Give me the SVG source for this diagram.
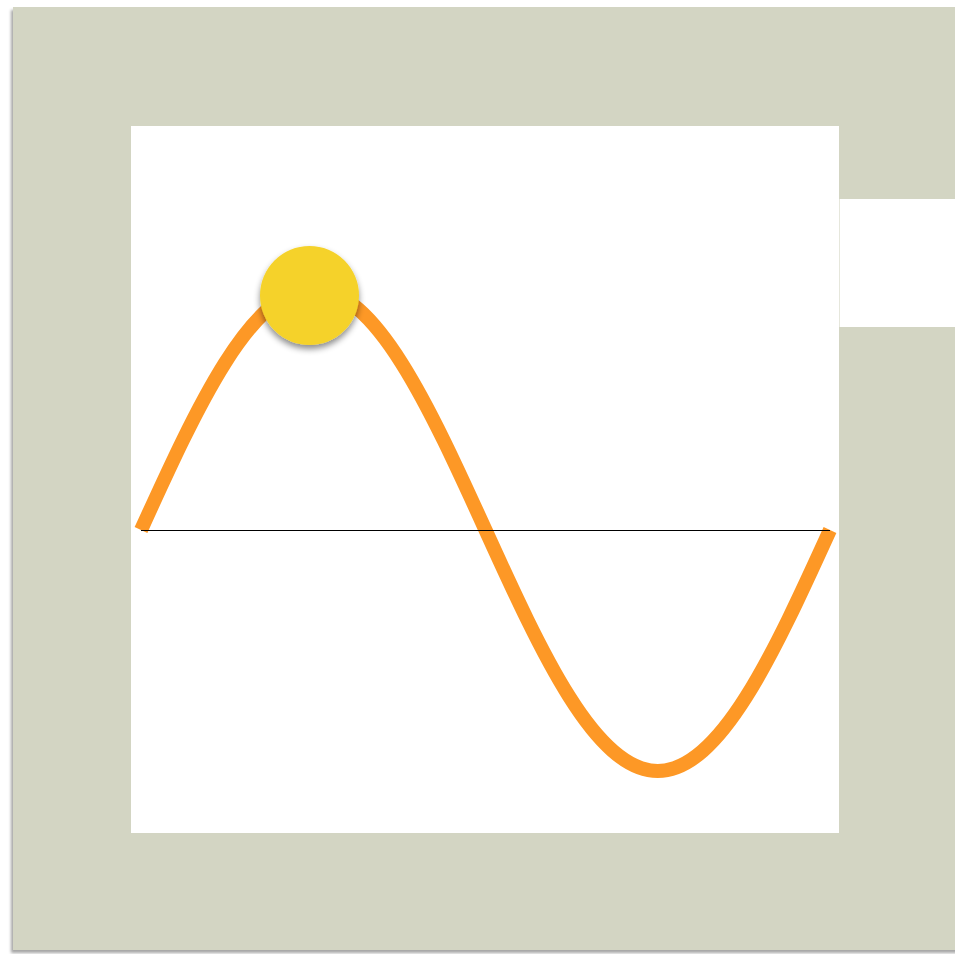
<svg xmlns="http://www.w3.org/2000/svg" width="955" height="954" viewBox="0 0 955 954">
  <defs>
    <filter id="frameShadow" x="-5%" y="-5%" width="110%" height="110%">
      <feDropShadow dx="-2" dy="3" stdDeviation="1.5" flood-color="#000" flood-opacity="0.35"/>
    </filter>
    <filter id="ballShadow" x="-30%" y="-30%" width="160%" height="170%">
      <feDropShadow dx="0" dy="4" stdDeviation="3" flood-color="#000" flood-opacity="0.45"/>
    </filter>
    <style>
      .frame { fill: #d3d5c3; }
      .hole { fill: #ffffff; }
      .wave { fill: none; stroke: #fd9826; stroke-width: 14; stroke-linecap: butt; }
      .axis { stroke: #000; stroke-width: 1; }
      .ball { fill: #f5d22b; }
    </style>
  </defs>
  <rect width="955" height="954" fill="#ffffff"/>
  <g id="frame">
    <rect class="frame" filter="url(#frameShadow)" x="13" y="7" width="950" height="943"/>
    <rect class="hole" x="131" y="126" width="708" height="707"/>
    <rect class="hole" x="839" y="199" width="120" height="128"/>
    <line x1="839.5" y1="199" x2="839.5" y2="327" stroke="#e6e7dc" stroke-width="1"/>
  </g>
  <g id="connectors">
    <path id="wave" class="wave" d="M141,530 C197.2,406.5 250.9,289 313.25,289 C375.6,289 429.3,406.5 485.5,530 C541.7,653.5 595.4,771 657.75,771 C720.1,771 773.8,653.5 830,530"/>
    <line id="axis" class="axis" x1="141" y1="530.5" x2="830" y2="530.5"/>
  </g>
  <g id="ball">
    <circle class="ball" filter="url(#ballShadow)" cx="309.5" cy="295.5" r="49.5"/>
  </g>
</svg>
